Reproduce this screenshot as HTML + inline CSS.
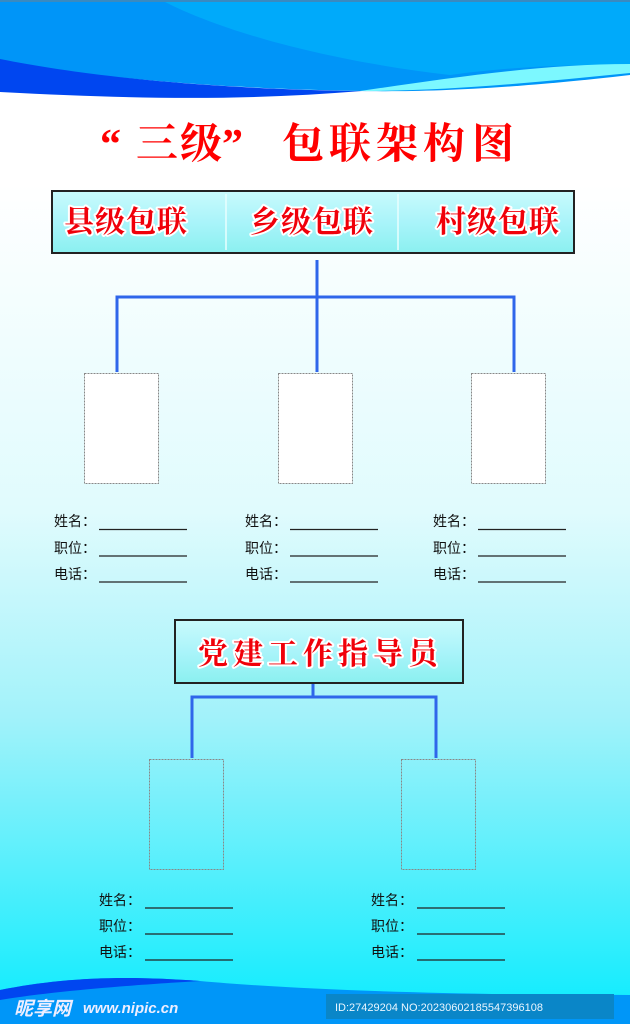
<!DOCTYPE html>
<html><head><meta charset="utf-8"><style>
html,body{margin:0;padding:0;width:630px;height:1024px;overflow:hidden}
svg{display:block}
.t{font-family:"Liberation Serif","Noto Serif CJK SC",serif;font-weight:bold;fill:#ff0000}
.h{font-family:"Liberation Serif","Noto Serif CJK SC",serif;font-weight:bold;fill:#f0000a;stroke:#fff;stroke-width:4;paint-order:stroke;stroke-linejoin:round}
.l{font-family:"Liberation Sans","Noto Sans CJK SC",sans-serif;font-size:14px;fill:#111}
</style></head><body>
<svg width="630" height="1024" viewBox="0 0 630 1024" xmlns="http://www.w3.org/2000/svg">
<defs>
<linearGradient id="bg" x1="0" y1="0" x2="0" y2="1">
<stop offset="0" stop-color="#ffffff"/>
<stop offset="0.18" stop-color="#ffffff"/>
<stop offset="0.5" stop-color="#e0fbfd"/>
<stop offset="0.7" stop-color="#a2f2fa"/>
<stop offset="1" stop-color="#08ecfe"/>
</linearGradient>
<linearGradient id="bx" x1="0" y1="0" x2="0" y2="1">
<stop offset="0" stop-color="#c8fafc"/>
<stop offset="0.5" stop-color="#aaf4fa"/>
<stop offset="1" stop-color="#8cf0f0"/>
</linearGradient>
</defs>
<rect width="630" height="1024" fill="url(#bg)"/>
<!-- top waves -->
<rect x="0" y="0" width="630" height="2" fill="#3a8ac0"/>
<path d="M0,2 H630 V75 C500,90 420,92 360,91 C200,88 80,76 0,60 Z" fill="#0095f8"/>
<path d="M165,2 H630 V65 C560,64 500,68 450,75 C320,60 220,30 165,2 Z" fill="#00aafa"/>
<path d="M360,91 C450,78 540,64 630,64 V73 C540,82 450,91 360,91 Z" fill="#7cf8ff"/>
<path d="M0,59 C80,75 200,89 362,91 C250,100 150,100 0,92 Z" fill="#0046f0"/>
<!-- title -->
<g class="t" font-size="42">
<text x="100" y="158">“</text>
<text x="136" y="158">三</text>
<text x="180" y="158">级</text>
<text x="222" y="158">”</text>
<text x="282" y="158">包</text>
<text x="329" y="158">联</text>
<text x="376" y="158">架</text>
<text x="423" y="158">构</text>
<text x="472" y="158">图</text>
</g>
<!-- header box -->
<rect x="51" y="190" width="524" height="64" fill="#222"/>
<rect x="53" y="192" width="520" height="60" fill="url(#bx)"/>
<line x1="226" y1="194" x2="226" y2="250" stroke="#e8ffff" stroke-width="1.5"/>
<line x1="398" y1="194" x2="398" y2="250" stroke="#e8ffff" stroke-width="1.5"/>
<text class="h" x="64" y="232" font-size="30" letter-spacing="1">县级包联</text>
<text class="h" x="250" y="232" font-size="30" letter-spacing="1">乡级包联</text>
<text class="h" x="436" y="232" font-size="30" letter-spacing="1">村级包联</text>
<!-- connectors -->
<g stroke="#2f66ea" stroke-width="3" fill="none">
<path d="M317,260 V297 M117,372 V297 H514 V372 M317,297 V372"/>
<path d="M313,684 V697 M192,758 V697 H436 V758"/>
</g>
<!-- boxes -->
<g fill="#fff" stroke="#888" stroke-width="1" stroke-dasharray="2,1">
<rect x="84.5" y="373.5" width="74" height="110"/>
<rect x="278.5" y="373.5" width="74" height="110"/>
<rect x="471.5" y="373.5" width="74" height="110"/>
</g>
<g fill="none" stroke="#888" stroke-width="1" stroke-dasharray="2,1">
<rect x="149.5" y="759.5" width="74" height="110"/>
<rect x="401.5" y="759.5" width="74" height="110"/>
</g>
<!-- labels -->
<g class="l">
<text x="54" y="526">姓名：</text><text x="54" y="553">职位：</text><text x="54" y="579">电话：</text>
<text x="245" y="526">姓名：</text><text x="245" y="553">职位：</text><text x="245" y="579">电话：</text>
<text x="433" y="526">姓名：</text><text x="433" y="553">职位：</text><text x="433" y="579">电话：</text>
<text x="99" y="905">姓名：</text><text x="99" y="931">职位：</text><text x="99" y="957">电话：</text>
<text x="371" y="905">姓名：</text><text x="371" y="931">职位：</text><text x="371" y="957">电话：</text>
</g>
<g stroke="#222" stroke-width="1.3">
<path d="M99,529.5H187M99,556H187M99,582H187"/>
<path d="M290,529.5H378M290,556H378M290,582H378"/>
<path d="M478,529.5H566M478,556H566M478,582H566"/>
<path d="M145,908H233M145,934H233M145,960H233"/>
<path d="M417,908H505M417,934H505M417,960H505"/>
</g>
<!-- second header -->
<rect x="174" y="619" width="290" height="65" fill="#222"/>
<rect x="176" y="621" width="286" height="61" fill="url(#bx)"/>
<text class="h" x="198" y="664" font-size="30" letter-spacing="5">党建工作指导员</text>
<!-- footer waves -->
<path d="M0,990 C60,978 120,975 200,981 C300,990 450,995 630,995 V1024 H0 Z" fill="#0096f8"/>
<path d="M0,990 C60,978 120,975 200,981 C150,984 60,990 0,1000 Z" fill="#0046f0"/>
<text x="14" y="1015" font-family="Liberation Sans,Noto Sans CJK SC,sans-serif" font-weight="bold" font-style="italic" font-size="19" fill="#eef">昵享网</text>
<text x="83" y="1013" font-family="Liberation Sans,sans-serif" font-weight="bold" font-style="italic" font-size="15" fill="#eef">www.nipic.cn</text>
<rect x="326" y="994" width="288" height="25" fill="#0a86c8"/>
<text x="335" y="1011" font-family="Liberation Sans,sans-serif" font-size="11" fill="#eaf6ff">ID:27429204 NO:20230602185547396108</text>
</svg>
</body></html>
